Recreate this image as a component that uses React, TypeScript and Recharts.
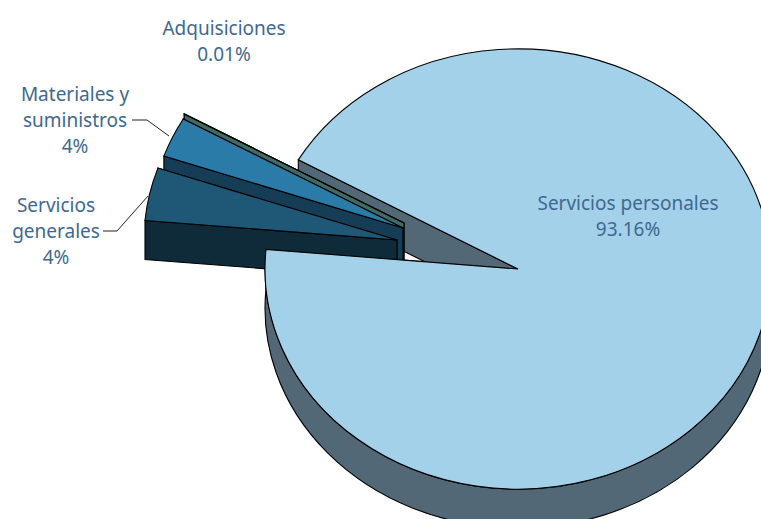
import { Pie, PieChart } from "recharts";

const categories = ["Servicios personales", "Adquisiciones", "Materiales y suministros", "Servicios generales"];
const shares = [93.16, 0.01, 2.95, 3.88];
const percentLabels = ["93.16%", "0.01%", "4%", "4%"];
const topColors = ["#a3d1e9", "#4f7f78", "#2a7ba8", "#1f5876"];
const wallColors = ["#526876", "#3e6b64", "#153d55", "#0f2a38"];

const chartData = categories.map((name, i) => ({
  name,
  value: shares[i],
  top: topColors[i],
  wall: wallColors[i],
}));

// aspect of the tilted pie and height of its side wall
const TILT = 0.87;
const DEPTH = 39;

// how far each slice is pulled out of the pie
const explode = [
  [0, 0],
  [-114, -46],
  [-115, -41],
  [-121, -29],
];

// text block centres and leader lines
const labelLayout = [
  { x: 628, y: 203, lines: ["Servicios personales"] },
  { x: 224, y: 28, lines: ["Adquisiciones"] },
  { x: 75, y: 94, lines: ["Materiales y", "suministros"], leader: "132,120 147,120 169,136" },
  { x: 56, y: 205, lines: ["Servicios", "generales"], leader: "103,231 117,231 148,196" },
];

const point = (cx: number, cy: number, r: number, deg: number) => {
  const rad = (deg * Math.PI) / 180;
  return [cx + r * Math.cos(rad), cy - r * TILT * Math.sin(rad)];
};

const arcTo = (r: number, from: number, to: number, cx: number, cy: number) => {
  const [x, y] = point(cx, cy, r, to);
  const large = Math.abs(to - from) > 180 ? 1 : 0;
  const sweep = to > from ? 0 : 1;
  return `A${r} ${r * TILT} 0 ${large} ${sweep} ${x} ${y}`;
};

const slicePath = (cx: number, cy: number, r: number, a: number, b: number) => {
  const [x0, y0] = point(cx, cy, r, a);
  return `M${cx} ${cy}L${x0} ${y0}${arcTo(r, a, b, cx, cy)}Z`;
};

function Walls({ cx, cy, r, a, b, fill }: any) {
  const edge = (deg: number) => {
    const [x, y] = point(cx, cy, r, deg);
    return `M${cx} ${cy}L${x} ${y}L${x} ${y + DEPTH}L${cx} ${cy + DEPTH}Z`;
  };
  let band = null;
  // only the front half of the rim can be seen
  if (a < 360 && b > 180) {
    const end = Math.min(b, 360);
    const [x0, y0] = point(cx, cy, r, a);
    const [x1, y1] = point(cx, cy, r, end);
    band =
      `M${x0} ${y0}${arcTo(r, a, end, cx, cy)}L${x1} ${y1 + DEPTH}` +
      `${arcTo(r, end, a, cx, cy + DEPTH)}Z`;
  }
  return (
    <g fill={fill} stroke="#000" strokeWidth={1.1}>
      <path d={edge(a)} />
      <path d={edge(b)} />
      {band && <path d={band} />}
    </g>
  );
}

// back layer: wall of the big slice, then the pulled out slices complete
function BackSlice(props: any) {
  const { cx, cy, outerRadius, startAngle, endAngle, index, top, wall } = props;
  const a = Math.min(startAngle, endAngle);
  const b = Math.max(startAngle, endAngle);
  const [dx, dy] = explode[index];
  return (
    <g transform={`translate(${dx} ${dy})`}>
      <Walls cx={cx} cy={cy} r={outerRadius} a={a} b={b} fill={wall} />
      {index > 0 && <path d={slicePath(cx, cy, outerRadius, a, b)} fill={top} stroke="#000" strokeWidth={1.1} />}
    </g>
  );
}

// front layer: only the top of the big slice
function FrontSlice(props: any) {
  const { cx, cy, outerRadius, startAngle, endAngle, index, top } = props;
  if (index > 0) return <g />;
  const a = Math.min(startAngle, endAngle);
  const b = Math.max(startAngle, endAngle);
  return <path d={slicePath(cx, cy, outerRadius, a, b)} fill={top} stroke="#000" strokeWidth={1.1} />;
}

function SliceLabel({ index }: any) {
  const item = labelLayout[index];
  const lines = [...item.lines, percentLabels[index]];
  return (
    <g>
      {item.leader && <polyline points={item.leader} fill="none" stroke="#222" strokeWidth={1} />}
      {lines.map((line, i) => (
        <text
          key={line}
          x={item.x}
          y={item.y + i * 26}
          textAnchor="middle"
          dominantBaseline="central"
          fontFamily="'Noto Sans', sans-serif"
          fontSize={19}
          fill="#41688f"
        >
          {line}
        </text>
      ))}
    </g>
  );
}

export default function App() {
  const pieProps = {
    data: chartData,
    dataKey: "value",
    nameKey: "name",
    cx: 518,
    cy: 269,
    outerRadius: 253,
    startAngle: 174.9,
    endAngle: 534.9,
    stroke: "none",
    isAnimationActive: false,
  };
  return (
    <div style={{ position: "absolute", left: 0, top: 0, width: 761, height: 519, overflow: "hidden", background: "#fff" }}>
      <PieChart width={761} height={519} margin={{ top: 0, right: 0, bottom: 0, left: 0 }}>
        <Pie {...pieProps} shape={BackSlice} />
        <Pie {...pieProps} shape={FrontSlice} label={SliceLabel} labelLine={false} />
      </PieChart>
    </div>
  );
}
